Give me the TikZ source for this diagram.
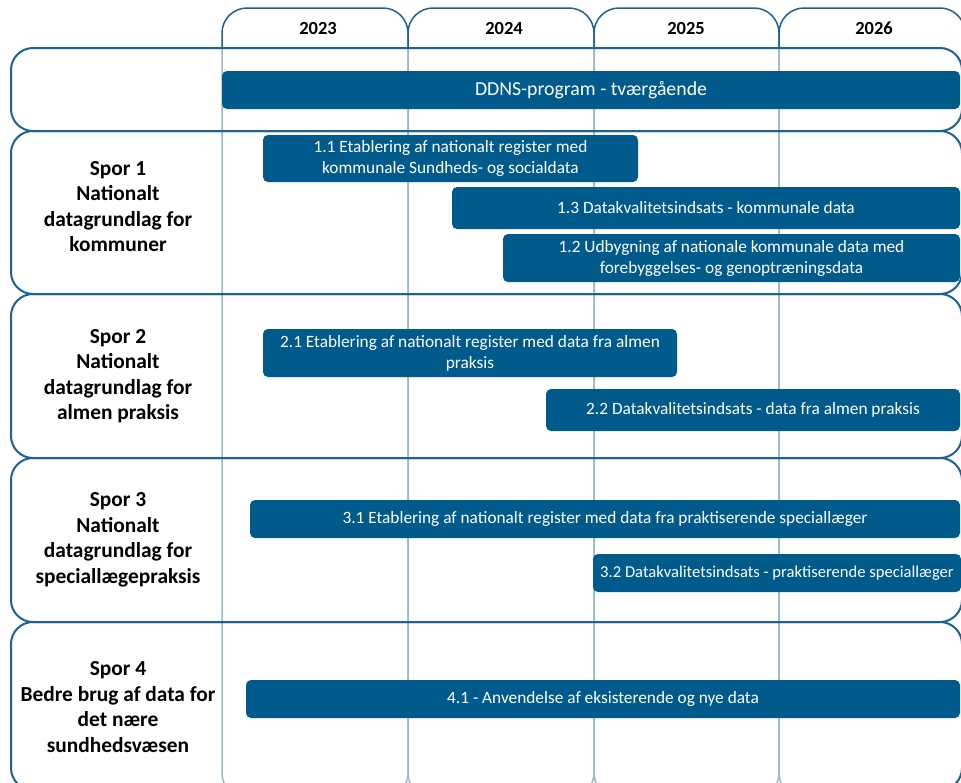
\documentclass[tikz,border=0pt]{standalone}
\usepackage{fontspec}
\setmainfont{Carlito}
\definecolor{barc}{RGB}{0,90,140}
\definecolor{edgec}{RGB}{28,98,148}
\begin{document}
\begin{tikzpicture}[x=1pt,y=-1pt,
  col/.style={draw=edgec, line width=1.5pt, rounded corners=25pt, anchor=north west, inner sep=0, outer sep=0},
  lanefill/.style={fill=white, fill opacity=0.55, rounded corners=22pt, anchor=north west, inner sep=0, outer sep=0},
  laneedge/.style={draw=edgec, line width=2pt, rounded corners=22pt},
  bar/.style={fill=barc, rounded corners=5pt, text=white, align=center, font=\fontsize{17.3}{21}\selectfont, inner sep=0, outer sep=0, anchor=north west},
  yr/.style={font=\bfseries\fontsize{18.5}{22}\selectfont},
  lbl/.style={font=\bfseries\fontsize{21.4}{25.5}\selectfont, align=center}]
\useasboundingbox (0,0) rectangle (961,782);
\clip (0,0) rectangle (961,782);
\fill[white] (0,0) rectangle (961,782);
% year columns
\node[col, minimum width=186pt, minimum height=790pt] (c23) at (222,8) {};
\node[col, minimum width=186pt, minimum height=790pt] (c24) at (408,8) {};
\node[col, minimum width=185pt, minimum height=790pt] (c25) at (594,8) {};
\node[col, minimum width=186pt, minimum height=790pt] (c26) at (779,8) {};
\node[yr] (y23) at (318,28) {2023};
\node[yr] (y24) at (504,28) {2024};
\node[yr] (y25) at (686,28) {2025};
\node[yr] (y26) at (874,28) {2026};
% lanes: translucent fills
\node[lanefill, minimum width=951pt, minimum height=83pt] (r0) at (11,48) {};
\node[lanefill, minimum width=951pt, minimum height=163pt] (r1) at (11,131) {};
\node[lanefill, minimum width=951pt, minimum height=164pt] (r2) at (11,294) {};
\node[lanefill, minimum width=951pt, minimum height=164pt] (r3) at (11,458) {};
\node[lanefill, minimum width=951pt, minimum height=168pt] (r4) at (11,622) {};
% lane borders
\foreach \r in {r0,r1,r2,r3,r4}
  \draw[laneedge] (\r.north west) rectangle (\r.south east);
% labels
\node[lbl] (l1) at (118,206.5) {Spor 1\\Nationalt\\datagrundlag for\\kommuner};
\node[lbl] (l2) at (118,376) {Spor 2\\Nationalt\\datagrundlag for\\almen praksis};
\node[lbl] (l3) at (118,540) {Spor 3\\Nationalt\\datagrundlag for\\speciallægepraksis};
\node[lbl] (l4) at (118,707) {Spor 4\\Bedre brug af data for\\det nære\\sundhedsvæsen};
% bars
\node[bar, minimum width=738pt, minimum height=38pt, font=\fontsize{19.8}{23}\selectfont] (b0) at (222,71) {DDNS-program - tværgående};
\node[bar, minimum width=375pt, minimum height=47pt] (b11) at (263,135) {1.1 Etablering af nationalt register med\\kommunale Sundheds- og socialdata};
\node[bar, minimum width=508pt, minimum height=42pt] (b13) at (452,187) {1.3 Datakvalitetsindsats - kommunale data};
\node[bar, minimum width=457pt, minimum height=48pt] (b12) at (503,234) {1.2 Udbygning af nationale kommunale data med\\forebyggelses- og genoptræningsdata};
\node[bar, minimum width=414pt, minimum height=48pt] (b21) at (263,329) {2.1 Etablering af nationalt register med data fra almen\\praksis};
\node[bar, minimum width=414pt, minimum height=42pt] (b22) at (546,389) {2.2 Datakvalitetsindsats - data fra almen praksis};
\node[bar, minimum width=710pt, minimum height=38pt] (b31) at (250,500) {3.1 Etablering af nationalt register med data fra praktiserende speciallæger};
\node[bar, minimum width=368pt, minimum height=38pt, font=\fontsize{16.6}{20}\selectfont] (b32) at (593,554) {3.2 Datakvalitetsindsats - praktiserende speciallæger};
\node[bar, minimum width=714pt, minimum height=38pt] (b41) at (246,680) {4.1 - Anvendelse af eksisterende og nye data};
\end{tikzpicture}
\end{document}
